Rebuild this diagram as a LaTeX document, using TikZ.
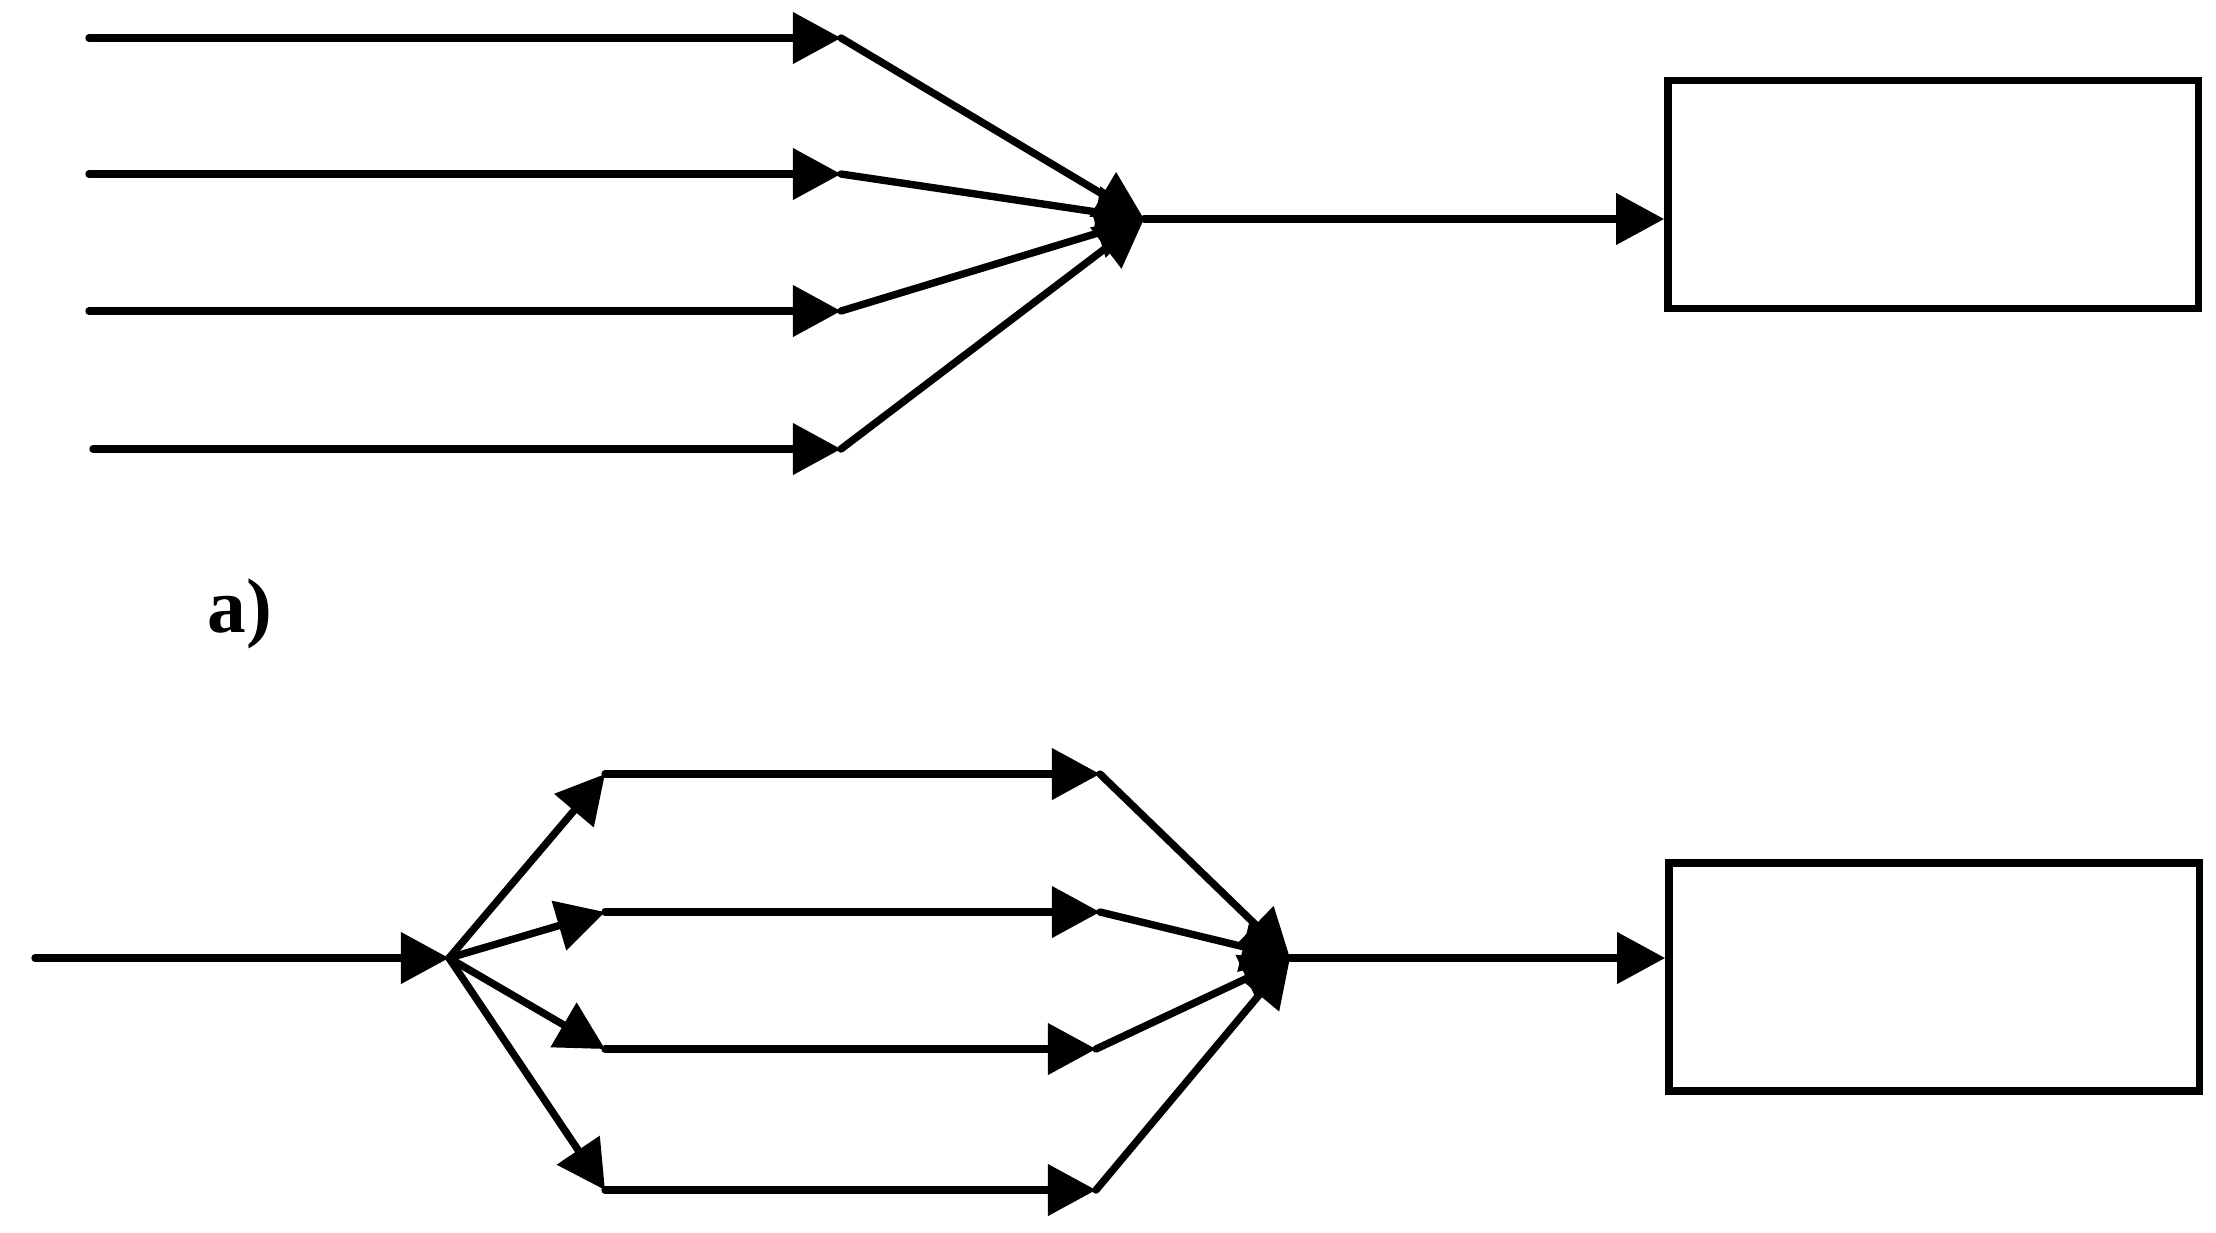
\documentclass[tikz,border=0pt]{standalone}
\usepackage{fontspec}
\setmainfont{Liberation Serif}
\usetikzlibrary{arrows.meta}
\tikzset{
  wire/.style={line width=2.1pt, line cap=round},
  arr/.style={wire, -{Triangle[length=0.48cm, width=0.5cm]}},
  blk/.style={draw, line width=2.1pt, minimum width=5.3cm, minimum height=2.28cm, inner sep=0pt},
  lbl/.style={font=\fontsize{22}{26}\selectfont\bfseries}
}
\begin{document}
\begin{tikzpicture}[x=0.01cm, y=-0.01cm]
\useasboundingbox (0,0) rectangle (2216,1232);
% ---------- part a ----------
\coordinate (s1) at (89,38);
\coordinate (s2) at (89,174);
\coordinate (s3) at (89,311);
\coordinate (s4) at (93,449);
\coordinate (t1) at (841,38);
\coordinate (t2) at (841,174);
\coordinate (t3) at (841,311);
\coordinate (t4) at (841,449);
\coordinate (J1) at (1144,219);
\node[blk] (b1) at (1933,194.5) {};
\foreach \i in {1,2,3,4}{
  \draw[arr] (s\i) -- (t\i);
  \draw[arr] (t\i) -- (J1);
}
\draw[arr] (J1) -- (J1 -| b1.west);
\node[lbl] (la) at (240,614) {a)};
% ---------- part b ----------
\coordinate (in) at (35,958);
\coordinate (P) at (449,958);
\coordinate (u1) at (605,774);
\coordinate (u2) at (605,912);
\coordinate (u3) at (605,1049);
\coordinate (u4) at (605,1190);
\coordinate (v1) at (1100,774);
\coordinate (v2) at (1100,912);
\coordinate (v3) at (1096,1049);
\coordinate (v4) at (1096,1190);
\coordinate (J2) at (1290,958);
\node[blk] (b2) at (1934,977) {};
\draw[arr] (in) -- (P);
\foreach \i in {1,2,3,4}{
  \draw[arr] (P) -- (u\i);
  \draw[arr] (u\i) -- (v\i);
  \draw[arr] (v\i) -- (J2);
}
\draw[arr] (J2) -- (J2 -| b2.west);
\end{tikzpicture}
\end{document}
